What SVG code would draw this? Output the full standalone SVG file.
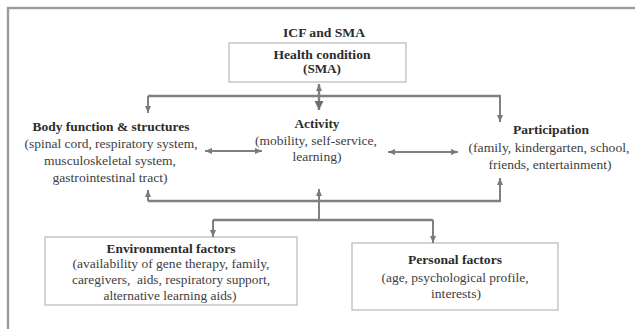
<svg xmlns="http://www.w3.org/2000/svg" width="635" height="329" viewBox="0 0 635 329">
<defs>
<style>
text{font-family:'Liberation Serif','Times New Roman','DejaVu Serif',serif;font-size:12.6px;fill:#404040;text-anchor:middle}
.b{font-weight:bold;fill:#2c2c2c}
.box{fill:#fff;stroke:#b8b8b8;stroke-width:1.2}
.ln{fill:none;stroke:#808080;stroke-width:2.4}
.ar{fill:none;stroke:#808080;stroke-width:2;marker-end:url(#ah)}
.dar{fill:none;stroke:#808080;stroke-width:2;marker-start:url(#ahs);marker-end:url(#ah)}
</style>
<marker id="ah" markerUnits="userSpaceOnUse" markerWidth="10" markerHeight="10" refX="7" refY="3" orient="auto"><path d="M0,0 L7,3 L0,6 Z" fill="#7a7a7a"/></marker>
<marker id="ahs" markerUnits="userSpaceOnUse" markerWidth="10" markerHeight="10" refX="0" refY="3" orient="auto"><path d="M7,0 L0,3 L7,6 Z" fill="#7a7a7a"/></marker>
<marker id="ahb" markerUnits="userSpaceOnUse" markerWidth="12" markerHeight="12" refX="9" refY="4.5" orient="auto"><path d="M0,0 L9,4.5 L0,9 Z" fill="#6e6e6e"/></marker>
</defs>
<rect x="8" y="8" width="700" height="400" fill="none" stroke="#9a9a9a" stroke-width="2.4"/>
<text class="b" x="324" y="37" textLength="82" lengthAdjust="spacingAndGlyphs">ICF and SMA</text>
<g id="health">
<rect class="box" x="229" y="43" width="177" height="39"/>
<text class="b" x="322" y="59" textLength="97" lengthAdjust="spacingAndGlyphs">Health condition</text>
<text class="b" x="322" y="73" textLength="38" lengthAdjust="spacingAndGlyphs">(SMA)</text>
</g>
<g id="body">
<text class="b" x="111" y="131" textLength="157" lengthAdjust="spacingAndGlyphs">Body function &amp; structures</text>
<text x="111" y="148" textLength="173" lengthAdjust="spacingAndGlyphs">(spinal cord, respiratory system,</text>
<text x="110" y="165" textLength="132" lengthAdjust="spacingAndGlyphs">musculoskeletal system,</text>
<text x="110" y="182" textLength="115" lengthAdjust="spacingAndGlyphs">gastrointestinal tract)</text>
</g>
<g id="activity">
<text class="b" x="317" y="128" textLength="45" lengthAdjust="spacingAndGlyphs">Activity</text>
<text x="316" y="145" textLength="122" lengthAdjust="spacingAndGlyphs">(mobility, self-service,</text>
<text x="317" y="161" textLength="49" lengthAdjust="spacingAndGlyphs">learning)</text>
</g>
<g id="participation">
<text class="b" x="551" y="134" textLength="76" lengthAdjust="spacingAndGlyphs">Participation</text>
<text x="549" y="152" textLength="161" lengthAdjust="spacingAndGlyphs">(family, kindergarten, school,</text>
<text x="550" y="169" textLength="123" lengthAdjust="spacingAndGlyphs">friends, entertainment)</text>
</g>
<g id="environmental">
<rect class="box" x="45" y="237" width="252" height="68"/>
<text class="b" x="171" y="253" textLength="129" lengthAdjust="spacingAndGlyphs">Environmental factors</text>
<text x="171" y="268" textLength="197" lengthAdjust="spacingAndGlyphs">(availability of gene therapy, family,</text>
<text x="171" y="284" textLength="198" lengthAdjust="spacingAndGlyphs" xml:space="preserve">caregivers,  aids, respiratory support,</text>
<text x="170" y="300" textLength="133" lengthAdjust="spacingAndGlyphs">alternative learning aids)</text>
</g>
<g id="personal">
<rect class="box" x="352" y="243" width="206" height="67"/>
<text class="b" x="455" y="264" textLength="94" lengthAdjust="spacingAndGlyphs">Personal factors</text>
<text x="455" y="282" textLength="147" lengthAdjust="spacingAndGlyphs">(age, psychological profile,</text>
<text x="456" y="298" textLength="50" lengthAdjust="spacingAndGlyphs">interests)</text>
</g>
<g id="connectors">
<path class="ln" d="M148,96 H501"/>
<path fill="none" stroke="#808080" stroke-width="2.4" d="M319,84 V110" marker-end="url(#ahb)" marker-start="url(#ahs)"/>
<path class="ar" d="M148,96 V113"/>
<path class="ar" d="M500,96 V122"/>
<path class="dar" d="M205,151 H262"/>
<path class="dar" d="M388,152 H458"/>
<path class="ln" d="M148,201 H501"/>
<path class="ar" d="M148,201 V190"/>
<path class="ar" d="M500,201 V178"/>
<path class="ar" d="M319,220 V189"/>
<path class="ln" d="M213,220 H433"/>
<path class="ar" d="M213,220 V237"/>
<path class="ar" d="M433,220 V243"/>
</g>
</svg>
